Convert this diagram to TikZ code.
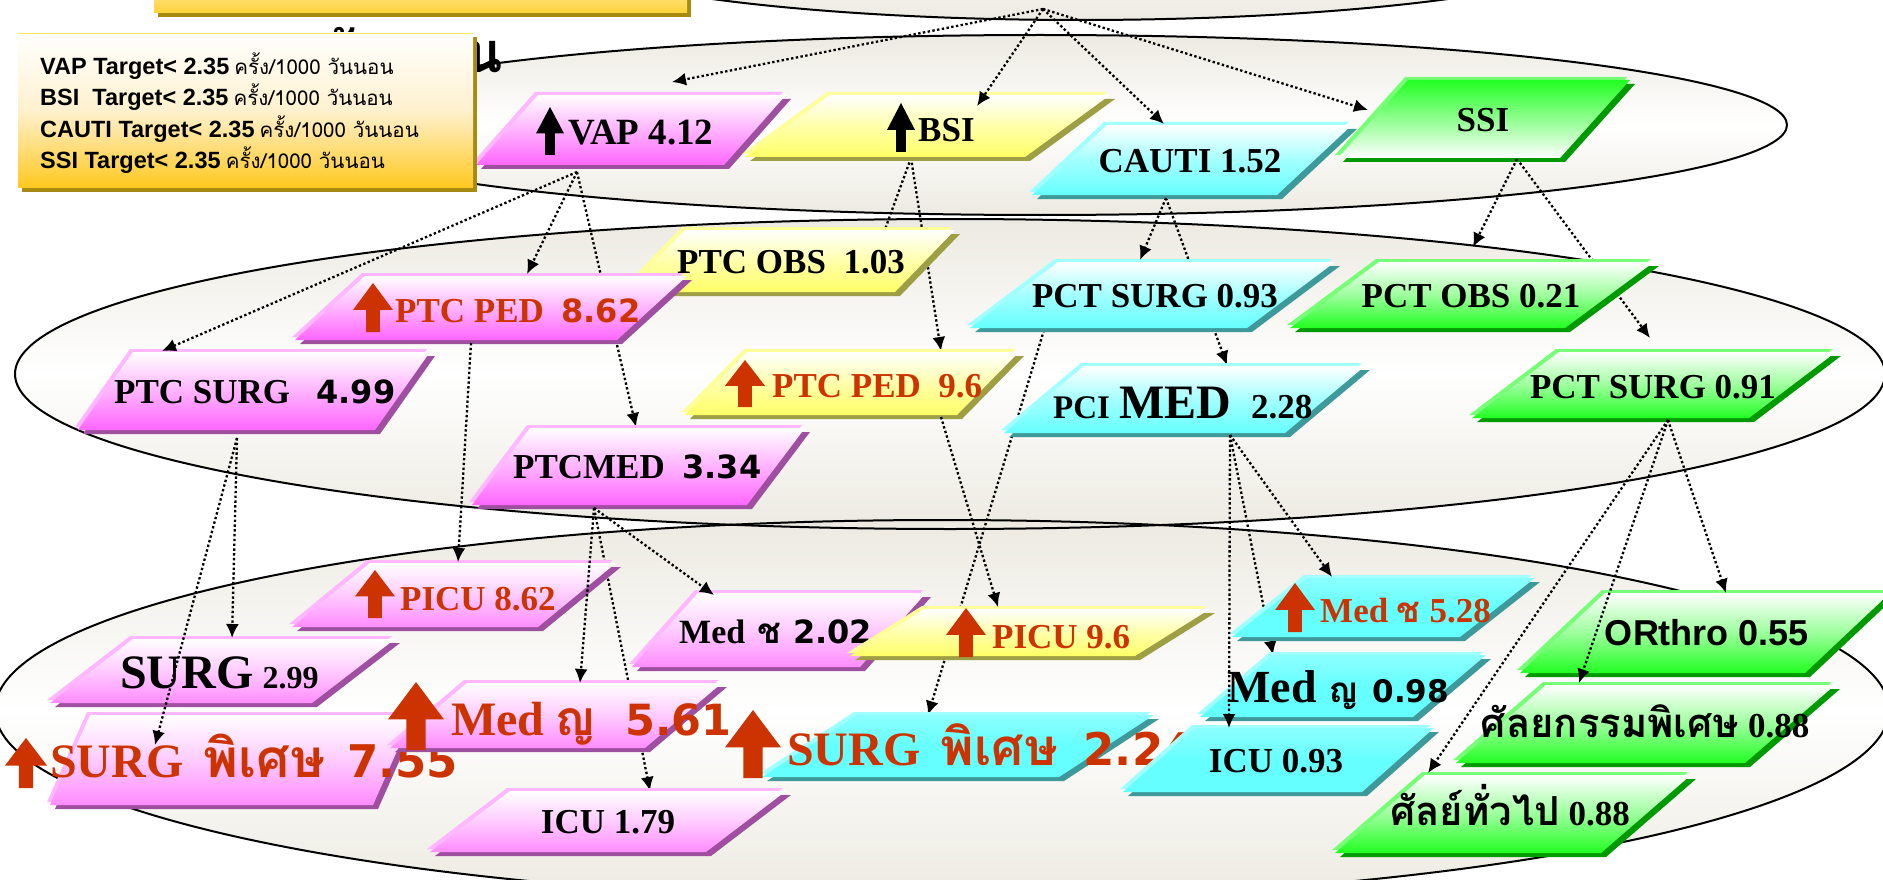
\documentclass[tikz,border=0pt]{standalone}
\usepackage{fontspec}
\setmainfont{Liberation Serif}
\newfontfamily\dvs{DejaVu Sans}
\newfontfamily\lsans{Liberation Sans}
\newfontfamily\thai[Script=Thai]{Loma}
\usetikzlibrary{arrows.meta}

\definecolor{redtxt}{HTML}{CC3300}
\definecolor{pinkB}{HTML}{FF66FF}
\definecolor{pinkC}{HTML}{FF8CFF}
\definecolor{pinkL}{HTML}{FFB8FF}
\definecolor{pinkD}{HTML}{9F4F9F}
\definecolor{yelB}{HTML}{FFFF66}
\definecolor{yelL}{HTML}{FFFF99}
\definecolor{yelD}{HTML}{9E9E45}
\definecolor{cyaB}{HTML}{66FFFF}
\definecolor{cyaL}{HTML}{A0FFFF}
\definecolor{cyaD}{HTML}{3E9A9A}
\definecolor{grnB}{HTML}{22FF22}
\definecolor{grnL}{HTML}{77FF77}
\definecolor{grnD}{HTML}{009900}
\definecolor{beige}{HTML}{ECEAE1}
\definecolor{gold}{HTML}{FFC81E}
\definecolor{goldM}{HTML}{FFF1CF}
\definecolor{goldD}{HTML}{A68A12}
\definecolor{goldT}{HTML}{FFD23A}

\newcommand\fsz[1]{\fontsize{#1}{#1}\selectfont}

% parallelogram with dark drop edge and light top edge
% #1 face style, #2 edge family, #3 bottom-left x, #4 bottom-right x, #5 top y, #6 bottom y, #7 slant
\newcommand\pg[7]{%
  \fill[#2D] ({#3+5},{#6+4}) -- ({#4+5},{#6+4}) -- ({#4+#7+5},{#5+4}) -- ({#3+#7+5},{#5+4}) -- cycle;
  \fill[#2L] ({#3-3},{#6-3}) -- ({#4-3},{#6-3}) -- ({#4+#7-3},{#5-3}) -- ({#3+#7-3},{#5-3}) -- cycle;
  \path[#1] (#3,#6) -- (#4,#6) -- ({#4+#7},#5) -- ({#3+#7},#5) -- cycle;}

% block up arrow: #1 colour, #2 centre x, #3 top y, #4 bottom y, #5 width
\newcommand\uparr[5]{%
  \fill[#1] ({#2-#5/2},{#3+0.55*(#4-#3)}) -- (#2,#3) -- ({#2+#5/2},{#3+0.55*(#4-#3)})
    -- ({#2+0.17*#5},{#3+0.55*(#4-#3)}) -- ({#2+0.17*#5},#4) -- ({#2-0.17*#5},#4)
    -- ({#2-0.17*#5},{#3+0.55*(#4-#3)}) -- cycle;}

\begin{document}
\begin{tikzpicture}[x=1pt,y=-1pt,
  pinkface/.style={top color=white, bottom color=pinkB, middle color=pinkB!50!white},
  pinkfaceb/.style={top color=white, bottom color=pinkC, middle color=pinkC!45!white},
  yelface/.style={top color=white, bottom color=yelB, middle color=yelB!55!white},
  cyanface/.style={top color=white, bottom color=cyaB, middle color=cyaB!60!white},
  cyansolid/.style={top color=cyaB!75!white, bottom color=cyaB, middle color=cyaB},
  grnface/.style={top color=white, bottom color=grnB, middle color=grnB!45!white},
  grnrev/.style={top color=grnB, bottom color=white, middle color=grnB!50!white},
  ringfill/.style={top color=beige, bottom color=beige, middle color=white},
  ringline/.style={draw=black, line width=2pt},
  lbl/.style={inner sep=0pt, font=\bfseries\fsz{35}},
  redlbl/.style={lbl, text=redtxt},
  leg/.style={inner sep=0pt, font=\fsz{20.5}},
  conn/.style={draw=black, line width=2.3pt, dash pattern=on 2.4pt off 2.4pt,
    -{Latex[length=14pt,width=13pt]}}]

\useasboundingbox (0,0) rectangle (1883,880);
\fill[white] (0,0) rectangle (1883,880);

% grouping ellipses
\path[ringfill] (1080,-60) ellipse [x radius=545, y radius=80];
\path[ringfill] (1040,125) ellipse [x radius=747, y radius=90];
\path[ringfill] (950,374) ellipse [x radius=935, y radius=155];
\path[ringfill] (942,710) ellipse [x radius=947, y radius=190];
\draw[ringline] (1080,-60) ellipse [x radius=545, y radius=80];
\draw[ringline] (1040,125) ellipse [x radius=747, y radius=90];
\draw[ringline] (950,374) ellipse [x radius=935, y radius=155];
\draw[ringline] (942,710) ellipse [x radius=947, y radius=190];

% heading bar and heading text
\fill[goldD] (158,-10) rectangle (691,17);
\path[top color=goldT!60!white, bottom color=goldT] (154,-10) rectangle (687,13);
\node[inner sep=0pt, anchor=base east, font=\thai\bfseries\fsz{56}] (heading) at (503,73) {วันนอน};

% connection points
\coordinate (top0) at (1043,9);
\coordinate (vapS) at (577,172);
\coordinate (bsiS) at (911,158);
\coordinate (cautiS) at (1166,198);
\coordinate (ssiS) at (1517,159);
\coordinate (ptcsurgS) at (237,438);
\coordinate (ptcpedaS) at (471,343);
\coordinate (ptcmedS) at (594,508);
\coordinate (ptcpedbS) at (941,417);
\coordinate (pctsurgaS) at (1044,330);
\coordinate (pcimedS) at (1230,435);
\coordinate (pctsurgbS) at (1668,420);

\coordinate (vapT) at (672,82);
\coordinate (bsiT) at (977,106);
\coordinate (cautiT) at (1164,124);
\coordinate (ssiT) at (1368,110);
\coordinate (ptcsurgT) at (162,351);
\coordinate (ptcpedaT) at (527,274);
\coordinate (ptcmedT) at (636,427);
\coordinate (ptcobsT) at (872,265);
\coordinate (ptcpedbT) at (941,351);
\coordinate (pctsurgaT) at (1140,260);
\coordinate (pcimedT) at (1227,365);
\coordinate (pctobsT) at (1473,247);
\coordinate (pctsurgbT) at (1650,338);
\coordinate (surgT) at (232,638);
\coordinate (surgspaT) at (155,745);
\coordinate (picuaT) at (458,562);
\coordinate (medyaT) at (580,683);
\coordinate (icuaT) at (650,791);
\coordinate (medchaT) at (714,595);
\coordinate (picubT) at (998,607);
\coordinate (surgspbT) at (928,715);
\coordinate (medchbT) at (1332,577);
\coordinate (medyobT) at (1273,655);
\coordinate (icubT) at (1229,728);
\coordinate (orthoT) at (1726,593);
\coordinate (ansspT) at (1579,683);
\coordinate (angenT) at (1428,773);

% links running behind the boxes
\draw[conn] (vapS) -- (ptcmedT);
\draw[conn] (bsiS) -- (ptcobsT);
\draw[conn] (bsiS) -- (ptcpedbT);
\draw[conn] (cautiS) -- (pcimedT);
\draw[conn] (ssiS) -- (pctsurgbT);
\draw[conn] (ptcmedS) -- (icuaT);
\draw[conn] (pctsurgaS) -- (surgspbT);
\draw[conn] (pcimedS) -- (medyobT);

% first level
\pg{pinkface}{pink}{476}{724}{95}{165}{62}
\uparr{black}{550}{107}{155}{28}
\node[lbl,anchor=base west,font=\bfseries\fsz{37}] (vap) at (568,145) {VAP 4.12};

\pg{yelface}{yel}{745}{1025}{95}{157}{85}
\uparr{black}{901}{103}{152}{28}
\node[lbl,anchor=base west] (bsi) at (918,142) {BSI};

\pg{cyanface}{cya}{1032}{1277}{125}{195}{75}
\node[lbl,anchor=base] (cauti) at (1190,173) {CAUTI 1.52};

\pg{grnrev}{grn}{1338}{1560}{80}{158}{70}
\node[lbl,anchor=base] (ssi) at (1483,132) {SSI};

% second level
\pg{yelface}{yel}{625}{895}{230}{292}{60}
\node[lbl,anchor=base] (ptcobs) at (791,273) {PTC OBS~~1.03};

\pg{pinkface}{pink}{295}{617}{276}{340}{70}
\uparr{redtxt}{373}{283}{332}{40}
\node[redlbl,anchor=base west] (ptcpeda) at (395,322) {PTC PED~~{\dvs\fsz{32}8.62}};

\pg{pinkface}{pink}{78}{375}{352}{430}{55}
\node[lbl,anchor=base west] (ptcsurg) at (114,403) {PTC SURG~~~{\dvs\fsz{32}4.99}};

\pg{pinkface}{pink}{472}{747}{428}{505}{58}
\node[lbl,anchor=base west] (ptcmed) at (513,478) {PTCMED~~{\dvs\fsz{32}3.34}};

\pg{yelface}{yel}{685}{957}{352}{415}{62}
\uparr{redtxt}{745}{360}{407}{40}
\node[redlbl,anchor=base west] (ptcpedb) at (772,397) {PTC PED~~9.6};

\pg{cyanface}{cya}{970}{1247}{262}{328}{88}
\node[lbl,anchor=base] (pctsurga) at (1155,307) {PCT SURG 0.93};

\pg{cyanface}{cya}{1004}{1285}{366}{433}{80}
\node[lbl,anchor=base west] (pcimed) at (1053,418) {{\fsz{33}PCI}\hspace{9pt}{\fsz{48}MED}\hspace{20pt}2.28};

\pg{grnface}{grn}{1290}{1565}{262}{328}{89}
\node[lbl,anchor=base] (pctobs) at (1471,307) {PCT OBS 0.21};

\pg{grnface}{grn}{1472}{1749}{352}{418}{87}
\node[lbl,anchor=base] (pctsurgb) at (1653,398) {PCT SURG 0.91};

% third level
\pg{pinkfaceb}{pink}{50}{312}{639}{703}{83}
\node[lbl,anchor=base west] (surga) at (120,688) {{\fsz{48}SURG}\hspace{9pt}{\fsz{32}2.99}};

\pg{pinkfaceb}{pink}{50}{373}{715}{805}{40}
\uparr{redtxt}{26}{738}{788}{42}
\node[redlbl,anchor=base west] (surgspa) at (50,777) {{\fsz{48}SURG}\hspace{20pt}{\thai\fsz{53}พิเศษ}\hspace{22pt}{\dvs\fsz{45}7.55}};

\pg{pinkfaceb}{pink}{292}{538}{563}{627}{78}
\uparr{redtxt}{375}{570}{618}{40}
\node[redlbl,anchor=base west] (picua) at (400,610) {PICU 8.62};

\pg{pinkfaceb}{pink}{430}{706}{791}{852}{80}
\node[lbl,anchor=base] (icua) at (608,833) {ICU 1.79};

\pg{pinkfaceb}{pink}{390}{645}{683}{748}{77}
\uparr{redtxt}{416}{682}{750}{56}
\node[redlbl,anchor=base west] (medya) at (451,735) {{\fsz{48}Med}\hspace{10pt}{\thai\fsz{48}ญ}\hspace{30pt}{\dvs\fsz{43}5.61}};

\pg{pinkfaceb}{pink}{632}{860}{593}{667}{66}
\node[lbl,anchor=base west] (medcha) at (679,643) {{\fsz{34}Med}\hspace{12pt}{\thai ช}\hspace{12pt}{\dvs\fsz{32}2.02}};

\pg{yelface}{yel}{850}{1135}{609}{656}{75}
\uparr{redtxt}{966}{608}{657}{40}
\node[redlbl,anchor=base west] (picub) at (992,648) {PICU 9.6};

\pg{cyansolid}{cya}{762}{1059}{715}{777}{95}
\uparr{redtxt}{753}{710}{778}{56}
\node[redlbl,anchor=base west] (surgspb) at (787,765) {{\fsz{48}SURG}\hspace{20pt}{\thai\fsz{51}พิเศษ}\hspace{26pt}{\dvs\fsz{45}2.24}};

\pg{cyansolid}{cya}{1123}{1362}{728}{792}{72}
\node[lbl,anchor=base] (icub) at (1276,772) {ICU 0.93};

\pg{cyansolid}{cya}{1232}{1460}{578}{637}{75}
\uparr{redtxt}{1295}{583}{632}{40}
\node[redlbl,anchor=base west] (medchb) at (1320,622) {Med {\thai ช} 5.28};

\pg{cyansolid}{cya}{1200}{1413}{655}{717}{73}
\node[lbl,anchor=base west] (medyob) at (1227,702) {{\fsz{46}Med}\hspace{12pt}{\thai ญ}\hspace{14pt}{\dvs\fsz{31}0.98}};

\pg{grnface}{grn}{1520}{1805}{593}{673}{85}
\node[lbl,anchor=base] (ortho) at (1707,645) {\lsans\fsz{36}ORthro 0.55};

\pg{grnface}{grn}{1456}{1745}{685}{763}{90}
\node[lbl,anchor=base] (anssp) at (1645,737) {{\thai\fsz{40}ศัลยกรรมพิเศษ} 0.88};

\pg{grnface}{grn}{1335}{1601}{775}{853}{90}
\node[lbl,anchor=base] (angen) at (1510,825) {{\thai\fsz{40}ศัลย์ทั่วไป} 0.88};

% links drawn over the boxes
\draw[conn] (top0) -- (vapT);
\draw[conn] (top0) -- (bsiT);
\draw[conn] (top0) -- (cautiT);
\draw[conn] (top0) -- (ssiT);
\draw[conn] (vapS) -- (ptcsurgT);
\draw[conn] (vapS) -- (ptcpedaT);
\draw[conn] (cautiS) -- (pctsurgaT);
\draw[conn] (ssiS) -- (pctobsT);
\draw[conn] (ptcsurgS) -- (surgT);
\draw[conn] (ptcsurgS) -- (surgspaT);
\draw[conn] (ptcpedaS) -- (picuaT);
\draw[conn] (ptcmedS) -- (medyaT);
\draw[conn] (ptcmedS) -- (medchaT);
\draw[conn] (ptcpedbS) -- (picubT);
\draw[conn] (pcimedS) -- (medchbT);
\draw[conn] (pcimedS) -- (icubT);
\draw[conn] (pctsurgbS) -- (orthoT);
\draw[conn] (pctsurgbS) -- (ansspT);
\draw[conn] (pctsurgbS) -- (angenT);

% target legend
\fill[goldD] (22,37) rectangle (477,192);
\path[top color=white, bottom color=gold, middle color=goldM] (18,33) rectangle (473,188);
\draw[gold!60!yellow!70!white, line width=1.5pt] (18,33.5) -- (473,33.5);
\node[leg,anchor=base west] (lg1) at (40,75) {{\lsans\bfseries\fsz{23.5}VAP Target< 2.35} {\thai ครั้ง/1000 วันนอน}};
\node[leg,anchor=base west] (lg2) at (40,106) {{\lsans\bfseries\fsz{23.5}BSI~~Target< 2.35} {\thai ครั้ง/1000 วันนอน}};
\node[leg,anchor=base west] (lg3) at (40,138) {{\lsans\bfseries\fsz{23.5}CAUTI Target< 2.35} {\thai ครั้ง/1000 วันนอน}};
\node[leg,anchor=base west] (lg4) at (40,169) {{\lsans\bfseries\fsz{23.5}SSI Target< 2.35} {\thai ครั้ง/1000 วันนอน}};
\end{tikzpicture}
\end{document}
